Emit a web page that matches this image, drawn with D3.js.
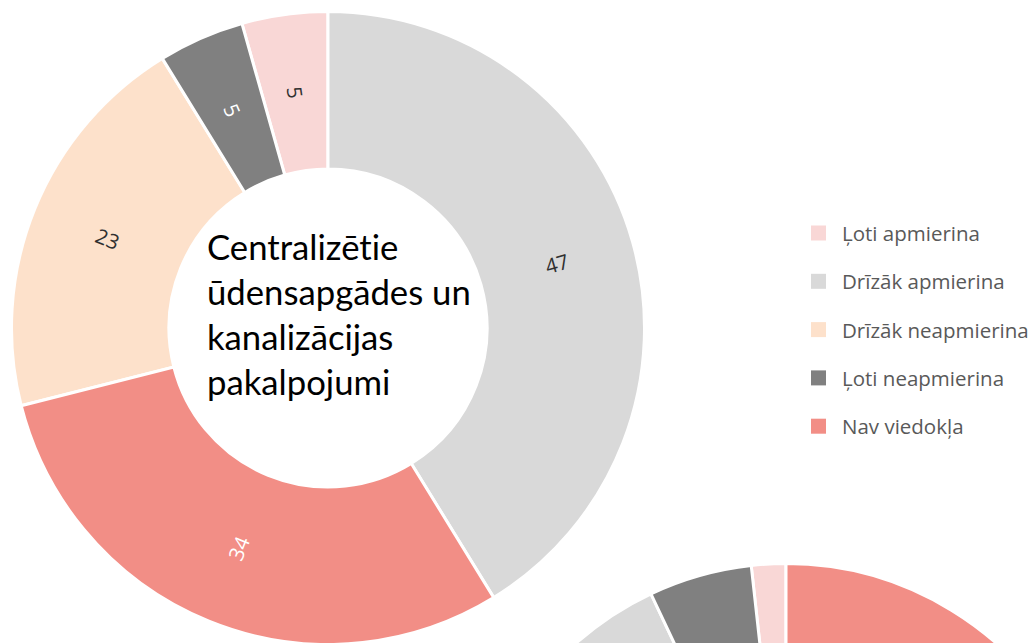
<!DOCTYPE html>
<html>
<head>
<meta charset="utf-8">
<script src="https://cdn.jsdelivr.net/npm/d3@7"></script>
<style>
  html, body { margin: 0; padding: 0; background: #fff; }
  svg { display: block; }
  text { font-variant-ligatures: none; font-feature-settings: "liga" 0, "clig" 0; }
</style>
</head>
<body>
<svg id="chart" width="1036" height="643"></svg>
<script>
// ---- data ----
const categories = ["Ļoti apmierina", "Drīzāk apmierina", "Drīzāk neapmierina", "Ļoti neapmierina", "Nav viedokļa"];
const values = [5, 47, 23, 5, 34];
// clockwise order of slices starting at 12 o'clock
const sliceOrder = ["Drīzāk apmierina", "Nav viedokļa", "Drīzāk neapmierina", "Ļoti neapmierina", "Ļoti apmierina"];
const centerTitle = ["Centralizētie", "ūdensapgādes un", "kanalizācijas", "pakalpojumi"];

// second (cropped) donut, mostly outside the frame
const values2 = [2, 46, 20, 6, 40];
const sliceOrder2 = ["Nav viedokļa", "Drīzāk neapmierina", "Drīzāk apmierina", "Ļoti neapmierina", "Ļoti apmierina"];

// ---- styles ----
const color = d3.scaleOrdinal()
  .domain(categories)
  .range(["#F9D7D6", "#D9D9D9", "#FDE1CB", "#808080", "#F28E86"]);
const labelColor = d3.scaleOrdinal()
  .domain(categories)
  .range(["#303030", "#303030", "#303030", "#FFFFFF", "#FFFFFF"]);

const svg = d3.select("#chart");
svg.append("rect").attr("width", 1036).attr("height", 643).attr("fill", "#fff");

function donut(vals, order, cx, cy, rOut, rIn, withLabels) {
  const data = categories.map((c, i) => ({ cat: c, value: vals[i] }));
  const pie = d3.pie()
    .value(d => d.value)
    .sort((a, b) => order.indexOf(a.cat) - order.indexOf(b.cat));
  const arcs = pie(data);
  const arc = d3.arc().innerRadius(rIn).outerRadius(rOut);
  const g = svg.append("g").attr("transform", `translate(${cx},${cy})`);
  g.selectAll("path.slice").data(arcs).join("path")
    .attr("class", "slice")
    .attr("d", arc)
    .attr("fill", d => color(d.data.cat))
    .attr("stroke", "#fff")
    .attr("stroke-width", 3)
    .attr("stroke-linejoin", "miter");
  if (withLabels) {
    const rl = (rIn + rOut) / 2;
    g.selectAll("text.lbl").data(arcs).join("text")
      .attr("class", "lbl")
      .attr("transform", d => {
        const a = (d.startAngle + d.endAngle) / 2;
        const x = rl * Math.sin(a), y = -rl * Math.cos(a);
        let rot = a * 180 / Math.PI - 90;
        while (rot > 90) rot -= 180;
        while (rot <= -90) rot += 180;
        return `translate(${x},${y}) rotate(${rot})`;
      })
      .attr("text-anchor", "middle")
      .attr("dominant-baseline", "central")
      .attr("font-family", "'Open Sans', sans-serif")
      .attr("font-size", 20.5)
      .attr("fill", d => labelColor(d.data.cat))
      .text(d => d.data.value);
  }
  return g;
}

const cx = 328, cy = 328;
const g1 = donut(values, sliceOrder, cx, cy, 316.5, 159, true);
donut(values2, sliceOrder2, 786, 880, 316.5, 159, false);

// center title
g1.append("text")
  .attr("font-family", "Lato, 'Liberation Sans', sans-serif")
  .attr("font-size", 34.7)
  .attr("fill", "#000")
  .selectAll("tspan").data(centerTitle).join("tspan")
  .attr("x", -121)
  .attr("y", (d, i) => -68 + i * 45)
  .text(d => d);

// legend
const legend = svg.append("g").attr("transform", "translate(811,233)");
const item = legend.selectAll("g").data(categories).join("g")
  .attr("transform", (d, i) => `translate(0,${i * 48.3})`);
item.append("rect")
  .attr("x", 0).attr("y", -7.5)
  .attr("width", 15).attr("height", 15)
  .attr("fill", d => color(d));
item.append("text")
  .attr("x", 31).attr("y", 0)
  .attr("dominant-baseline", "central")
  .attr("font-family", "'Open Sans', sans-serif")
  .attr("font-size", 20.5)
  .attr("fill", "#595959")
  .text(d => d);
</script>
</body>
</html>
